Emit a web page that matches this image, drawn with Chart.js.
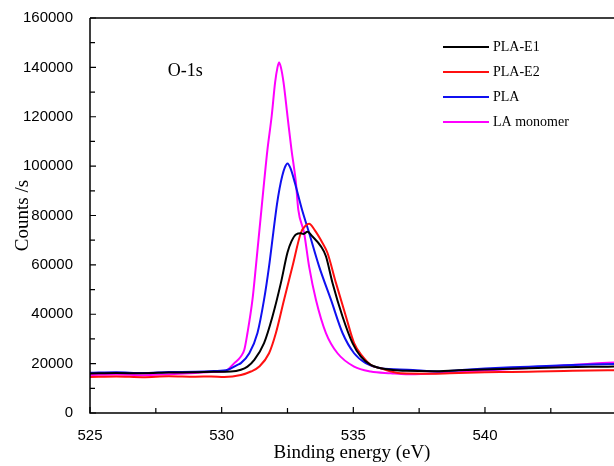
<!DOCTYPE html>
<html>
<head>
<meta charset="utf-8">
<script src="https://cdn.jsdelivr.net/npm/chart.js@4"></script>
<style>
    body { margin: 0; background: #fff; }
</style>
</head>
<body>
<canvas id="chart" width="614" height="466"></canvas>
<script>
// values: [binding energy eV, counts/s]
const plaE1 = [[525,16000],[526,16200],[527,16100],[528,16400],[529,16500],[529.7,16700],[530.35,16800],[530.73,17500],[530.98,18800],[531.24,21500],[531.61,28300],[531.93,39100],[532.25,52700],[532.5,65000],[532.65,69500],[532.82,72300],[533.01,72800],[533.1,72500],[533.26,73400],[533.45,71500],[533.77,67500],[533.96,63500],[534.21,52700],[534.59,39100],[534.97,28300],[535.28,22900],[535.66,19500],[536.42,17500],[537,17100],[538,16900],[539,17300],[540,17600],[541,17900],[542,18200],[543,18500],[544,18700],[545,18800]]
const plaE2 = [[525,14600],[526,14800],[527,14500],[528,14900],[529,14700],[529.6,14800],[530.1,14600],[530.73,15400],[531.11,16800],[531.43,18800],[531.8,24200],[532.06,32400],[532.37,45900],[532.69,59400],[533.01,73000],[533.2,76000],[533.32,76700],[533.54,74000],[533.83,68900],[534.02,64800],[534.34,52700],[534.72,39100],[535.03,28300],[535.35,22900],[535.66,19500],[536.04,18100],[536.8,16100],[538,15900],[539,16200],[540,16500],[541,16600],[542,16800],[543,17000],[544,17200],[545,17300]]
const pla = [[525,16300],[526,16500],[527,16200],[528,16600],[529,16700],[529.7,17000],[530.23,17500],[530.6,19500],[530.73,20200],[531.05,24200],[531.36,32400],[531.61,45900],[531.8,59400],[531.96,73000],[532.1,84500],[532.2,91000],[532.3,96000],[532.4,99500],[532.5,101100],[532.62,99000],[532.78,93300],[533.05,82400],[533.32,73000],[533.7,59400],[534.15,45900],[534.59,32400],[535.03,24200],[535.47,20200],[536.04,18100],[537.06,17500],[538.32,16800],[539,17300],[540,18000],[541,18500],[542,18900],[543,19300],[544,19600],[545,19900]]
const laMonomer = [[525,15400],[526,15600],[527,15300],[528,15700],[529,16200],[529.6,16600],[530.1,16800],[530.48,20200],[530.73,22900],[530.86,25600],[530.98,32400],[531.17,45900],[531.3,59400],[531.51,82400],[531.61,93300],[531.74,106800],[531.9,120300],[532.03,133900],[532.12,140000],[532.18,142000],[532.25,140000],[532.35,133900],[532.5,120300],[532.65,106800],[532.82,93300],[532.91,82400],[533.13,73000],[533.32,59400],[533.58,45900],[533.96,32400],[534.4,24200],[535.03,18800],[535.66,16800],[536.42,16100],[537,15700],[538,16000],[539,16500],[540,17200],[541,17800],[542,18500],[543,19200],[544,20000],[545,20500]]

const seriesNames = ["PLA-E1", "PLA-E2", "PLA", "LA monomer"]
const seriesColors = ["#000000", "#ff1010", "#1010f0", "#ff00ff"]
const xTicks = [525, 530, 535, 540]
const yTicks = [0, 20000, 40000, 60000, 80000, 100000, 120000, 140000, 160000]

const toPoints = arr => arr.map(p => ({x: p[0], y: p[1]}))

// frame, inward ticks, legend and the O-1s label
const decorations = {
    id: "decorations",
    afterDraw(chart) {
        const ctx = chart.ctx
        const a = chart.chartArea
        const x = chart.scales.x
        const y = chart.scales.y
        ctx.save()
        ctx.strokeStyle = "#000"
        ctx.lineWidth = 1.5
        ctx.beginPath()
        ctx.moveTo(a.left, a.top)
        ctx.lineTo(a.right + 2, a.top)
        ctx.moveTo(a.left, a.top)
        ctx.lineTo(a.left, a.bottom)
        ctx.lineTo(a.right + 2, a.bottom)
        ctx.stroke()

        ctx.lineWidth = 1.2
        ctx.beginPath()
        for (let v = 525; v <= 545; v += 2.5) {
            let px = x.getPixelForValue(v)
            if (px > a.right) continue
            let len = v % 5 == 0 ? 6 : 5
            ctx.moveTo(px, a.bottom)
            ctx.lineTo(px, a.bottom - len)
        }
        for (let v = 0; v <= 160000; v += 10000) {
            let py = y.getPixelForValue(v)
            let len = v % 20000 == 0 ? 6 : 5
            ctx.moveTo(a.left, py)
            ctx.lineTo(a.left + len, py)
        }
        ctx.stroke()

        // legend
        ctx.font = "14px 'Liberation Serif'"
        ctx.textBaseline = "middle"
        ctx.fillStyle = "#000"
        chart.data.datasets.forEach((ds, i) => {
            let ly = 47 + i * 25
            ctx.strokeStyle = ds.borderColor
            ctx.lineWidth = 2
            ctx.beginPath()
            ctx.moveTo(443, ly)
            ctx.lineTo(489, ly)
            ctx.stroke()
            ctx.fillText(ds.label, 493, ly)
        })

        ctx.font = "18px 'Liberation Serif'"
        ctx.fillText("O-1s", x.getPixelForValue(527.95), y.getPixelForValue(138500))
        ctx.restore()
    }
}

new Chart(document.getElementById("chart"), {
    type: "scatter",
    data: {
        datasets: [plaE1, plaE2, pla, laMonomer].map((d, i) => ({
            label: seriesNames[i],
            data: toPoints(d),
            showLine: true,
            borderColor: seriesColors[i],
            backgroundColor: seriesColors[i],
            borderWidth: 2,
            pointRadius: 0,
            cubicInterpolationMode: "monotone"
        }))
    },
    options: {
        responsive: false,
        animation: false,
        layout: { padding: { top: 18, right: 0, left: 0, bottom: 0 } },
        plugins: { legend: { display: false }, tooltip: { enabled: false } },
        scales: {
            x: {
                type: "linear",
                min: 525,
                max: 544.9,
                afterBuildTicks: s => { s.ticks = xTicks.map(v => ({value: v})) },
                afterFit: s => { s.height = 53 },
                grid: { display: false },
                border: { display: false },
                ticks: { color: "#000", padding: 6, callback: v => String(v), font: { family: "'Liberation Sans'", size: 15 } },
                title: { display: true, text: "Binding energy (eV)", color: "#000", padding: { top: 0, bottom: 2 }, font: { family: "'Liberation Serif'", size: 19 } }
            },
            y: {
                min: 0,
                max: 160000,
                afterBuildTicks: s => { s.ticks = yTicks.map(v => ({value: v})) },
                afterFit: s => { s.width = 90 },
                grid: { display: false },
                border: { display: false },
                ticks: { color: "#000", padding: 9, callback: v => String(v), font: { family: "'Liberation Sans'", size: 15 } },
                title: { display: true, text: "Counts /s", color: "#000", padding: { top: 12, bottom: 0 }, font: { family: "'Liberation Serif'", size: 19 } }
            }
        }
    },
    plugins: [decorations]
})
</script>
</body>
</html>
